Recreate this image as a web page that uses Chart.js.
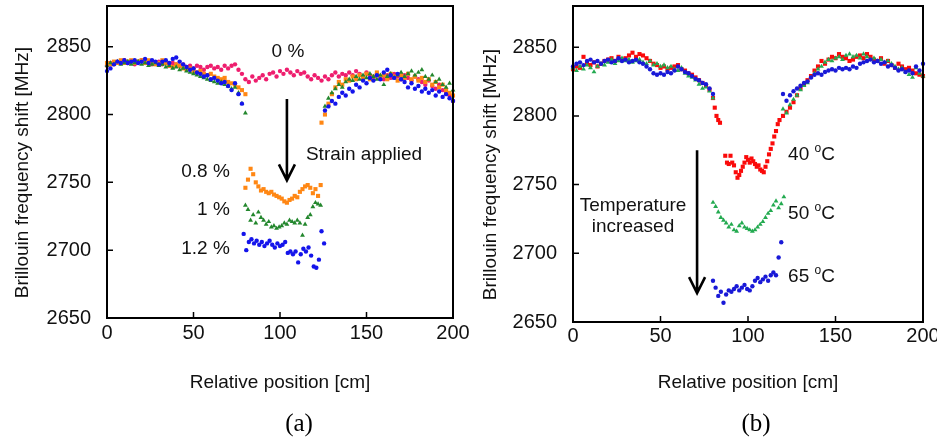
<!DOCTYPE html>
<html>
<head>
<meta charset="utf-8">
<script src="https://cdn.jsdelivr.net/npm/chart.js@4.4.1/dist/chart.umd.min.js"></script>
<style>
  html, body { margin: 0; padding: 0; background: #fff; }
  #wrap { position: relative; width: 937px; height: 442px; }
  #wrap canvas { position: absolute; top: 0; }
  #chartA { left: 0; }
  #chartB { left: 468px; }
</style>
</head>
<body>
<div id="wrap">
  <canvas id="chartA" width="480" height="442"></canvas>
  <canvas id="chartB" width="469" height="442"></canvas>
</div>
<script>
// positions along the fibre [cm]
const steps = (a, b, d) => { const out = []; for (let v = a; v <= b + 1e-9; v += d) out.push(Math.round(v * 10) / 10); return out; };

const yTicks = [2650, 2700, 2750, 2800, 2850];
const xTicks = [0, 50, 100, 150, 200];

// ---- (a) strain ----
const strain00 = [2836,2838,2837,2839,2838,2840,2838,2839,2837,2839,2840,2838,2839,2837,2838,2839,2837,2838,2836,2838,
  2837,2836,2837,2835,2836,2834,2836,2835,2833,2835,2836,2834,2835,2833,2836,2834,2836,2837,2833,2830,
  2826,2824,2828,2825,2827,2829,2826,2830,2831,2828,2832,2830,2833,2831,2829,2832,2830,2831,2828,2826,
  2829,2827,2825,2828,2826,2829,2831,2828,2830,2829,2831,2829,2832,2830,2828,2831,2829,2827,2830,2828,
  2826,2829,2827,2830,2828,2826,2829,2827,2825,2828,2826,2824,2822,2825,2821,2819,2822,2818,2816,2814,2810];

const strain08Left = [2838,2837,2839,2838,2840,2838,2839,2840,2838,2839,2840,2838,2840,2839,2837,2838,2840,2838,2836,2835,
  2837,2836,2834,2833,2834,2832,2831,2832,2830,2829,2830,2828,2827,2826,2827,2824,2823,2822,2820,2818,2815];
const strain08Low = [2746,2752,2760,2756,2750,2747,2744,2745,2743,2742,2743,2741,2740,2739,2738,2736,2735,2737,2738,2740,
  2739,2743,2745,2747,2748,2746,2742,2745,2740,2748];
const strain08Right = [2794,2800,2808,2815,2820,2824,2822,2826,2825,2828,2826,2829,2827,2830,2826,2828,2831,2827,2829,2826,
  2830,2828,2825,2829,2827,2830,2826,2828,2825,2827,2824,2826,2822,2824,2820,2822,2818,2816,2814];

const strain10Left = [2836,2838,2837,2839,2837,2838,2839,2837,2838,2839,2837,2838,2836,2837,2838,2836,2837,2835,2836,2834,
  2835,2833,2834,2832,2831,2830,2829,2828,2827,2826,2825,2824,2823,2824,2822,2821,2819,2820,2816,2808,2801];
const strain10Low = [2733,2730,2722,2726,2720,2728,2724,2722,2719,2721,2717,2718,2716,2717,2718,2720,2719,2722,2721,2720,
  2722,2720,2711,2719,2724,2726,2732,2735,2734,2733];
const strain10Right = [2806,2812,2816,2819,2822,2820,2824,2826,2825,2828,2826,2829,2827,2830,2828,2826,2829,2822,2828,2830,
  2827,2829,2831,2828,2830,2832,2829,2831,2833,2828,2826,2829,2824,2826,2822,2820,2823,2818];

const strain12Left = [2832,2834,2837,2839,2838,2840,2838,2839,2840,2838,2839,2841,2838,2840,2839,2837,2839,2840,2838,2841,
  2842,2839,2837,2835,2833,2834,2831,2830,2828,2829,2826,2827,2825,2823,2824,2821,2818,2823,2815,2808];
const strain12Low = [2712,2700,2706,2708,2705,2707,2704,2706,2703,2705,2707,2704,2702,2705,2703,2704,2706,2698,2699,2697,
  2699,2691,2697,2701,2699,2702,2696,2688,2687,2693,2714,2705];
const strain12Right = [2803,2806,2810,2808,2813,2816,2814,2819,2817,2822,2820,2825,2823,2827,2825,2829,2826,2831,2833,2829,
  2827,2830,2826,2824,2820,2823,2819,2821,2817,2819,2816,2818,2814,2817,2813,2815,2812,2810];

// ---- (b) temperature ----
const temp40Left = [2834,2836,2835,2843,2838,2837,2839,2836,2838,2840,2841,2842,2840,2843,2841,2842,2844,2846,2843,2845,
  2844,2842,2840,2838,2837,2835,2836,2834,2835,2836,2837,2834,2833,2831,2830,2828,2826,2824,2822,2819];
const temp40Edge = [2813,2806,2800,2797,2795];
const temp40Low = [2771,2766,2765,2771,2766,2764,2759,2755,2757,2760,2763,2766,2770,2768,2766,2769,2767,2765,2763,2764,
  2761,2760,2759,2763,2767,2772,2776,2780,2785,2789,2794,2797];
const temp40Right = [2800,2803,2806,2810,2815,2820,2823,2826,2829,2833,2836,2840,2838,2841,2843,2842,2845,2843,2842,2840,
  2841,2843,2844,2842,2845,2843,2841,2840,2842,2838,2840,2837,2835,2838,2836,2834,2835,2833,2831,2830,2829];

const temp50Left = [2835,2833,2836,2834,2837,2835,2832,2836,2838,2837,2839,2841,2838,2840,2842,2840,2841,2839,2840,2841,
  2839,2838,2840,2837,2838,2836,2837,2835,2836,2834,2833,2835,2831,2829,2828,2826,2823,2820,2821,2818,2813];
const temp50Low = [2737,2734,2730,2726,2724,2722,2719,2721,2717,2716,2720,2722,2719,2718,2717,2716,2717,2719,2721,2723,
  2726,2729,2731,2735,2738,2733,2736,2741];
const temp50Right = [2805,2802,2808,2812,2815,2819,2822,2824,2828,2831,2834,2836,2839,2841,2840,2842,2843,2841,2844,2845,
  2843,2844,2842,2845,2843,2841,2842,2840,2841,2839,2840,2838,2836,2834,2835,2832,2830,2828,2835,2831,2829];

const temp65Left = [2836,2838,2839,2837,2840,2841,2839,2840,2838,2840,2841,2839,2840,2842,2840,2841,2839,2840,2841,2839,
  2838,2836,2834,2831,2830,2831,2830,2832,2831,2833,2836,2834,2832,2831,2829,2827,2826,2824,2823,2820,2816];
const temp65Low = [2680,2675,2669,2672,2664,2670,2673,2672,2674,2676,2673,2675,2677,2674,2673,2676,2680,2682,2679,2681,
  2683,2680,2684,2686,2684,2697,2708];
const temp65Right = [2816,2811,2815,2818,2820,2822,2824,2825,2828,2830,2831,2830,2832,2833,2834,2833,2835,2834,2835,2834,
  2836,2835,2838,2839,2840,2841,2839,2840,2838,2839,2836,2837,2835,2833,2834,2832,2833,2831,2836,2833,2838];

const FONT = "'Liberation Sans', Arial, sans-serif";
Chart.defaults.font.family = FONT;
Chart.defaults.color = '#111';

function pts(xs, ys) {
  return xs.map((x, i) => ({ x: x, y: ys[i] }));
}

function series(label, data, color, style, radius, order) {
  return {
    label: label,
    data: data,
    showLine: false,
    pointStyle: style,
    pointRadius: radius,
    pointHoverRadius: radius,
    pointBackgroundColor: color,
    pointBorderColor: color,
    pointBorderWidth: 0,
    order: order,
    clip: false
  };
}

function drawSupLabel(ctx, x, y, num) {
  ctx.textAlign = 'left';
  ctx.font = '19px ' + FONT;
  ctx.fillText(num + ' ', x, y);
  let w = ctx.measureText(num + ' ').width;
  ctx.font = '12px ' + FONT;
  ctx.fillText('o', x + w, y - 6);
  w += ctx.measureText('o').width;
  ctx.font = '19px ' + FONT;
  ctx.fillText('C', x + w, y);
}

const panelDecor = {
  id: 'panelDecor',
  afterDraw(chart, args, opts) {
    const { ctx, chartArea: a, scales: { x, y } } = chart;
    ctx.save();
    ctx.strokeStyle = '#000';
    ctx.fillStyle = '#111';

    // inward tick marks
    ctx.lineWidth = 1.5;
    ctx.beginPath();
    xTicks.forEach(v => { const px = x.getPixelForValue(v); ctx.moveTo(px, a.bottom); ctx.lineTo(px, a.bottom - 6); });
    yTicks.forEach(v => { const py = y.getPixelForValue(v); ctx.moveTo(a.left, py); ctx.lineTo(a.left + 6, py); });
    ctx.stroke();

    // plot frame
    ctx.lineWidth = 2;
    ctx.strokeRect(a.left, a.top, a.right - a.left, a.bottom - a.top);

    // arrow
    const ar = opts.arrow;
    const ax = x.getPixelForValue(ar.x), ay0 = y.getPixelForValue(ar.from), ay1 = y.getPixelForValue(ar.to);
    ctx.lineWidth = 2.6;
    ctx.beginPath();
    ctx.moveTo(ax, ay0); ctx.lineTo(ax, ay1);
    ctx.moveTo(ax - 8, ay1 - 16); ctx.lineTo(ax, ay1); ctx.lineTo(ax + 8, ay1 - 16);
    ctx.stroke();

    // text notes
    ctx.textBaseline = 'middle';
    opts.notes.forEach(n => {
      const px = x.getPixelForValue(n.x), py = y.getPixelForValue(n.y);
      if (n.deg) { drawSupLabel(ctx, px, py, n.deg); return; }
      ctx.font = '19px ' + FONT;
      ctx.textAlign = n.align;
      ctx.fillText(n.text, px, py);
    });

    // panel tag
    ctx.font = "25px 'Liberation Serif', 'Times New Roman', serif";
    ctx.textAlign = 'center';
    ctx.fillStyle = '#000';
    ctx.fillText(opts.tag, x.getPixelForValue(opts.tagX), 424);
    ctx.restore();
  }
};

function makeChart(id, datasets, decor, pad, xHeight, xTitlePad, xLabelPad) {
  return new Chart(document.getElementById(id), {
    type: 'scatter',
    data: { datasets: datasets },
    plugins: [panelDecor],
    options: {
      responsive: false,
      animation: false,
      events: [],
      layout: { padding: pad },
      plugins: { legend: { display: false }, tooltip: { enabled: false }, panelDecor: decor },
      scales: {
        x: {
          type: 'linear', min: 0, max: 200, bounds: 'data',
          grid: { display: false, drawTicks: false },
          border: { display: false },
          afterBuildTicks: s => { s.ticks = xTicks.map(v => ({ value: v })); },
          ticks: { padding: xLabelPad, font: { size: 20 }, color: '#111', callback: v => String(v) },
          title: { display: true, text: 'Relative position [cm]', font: { size: 19 }, color: '#111', padding: { top: 0, bottom: xTitlePad } },
          afterFit: s => { s.height = xHeight; s.paddingLeft = 0; s.paddingRight = 0; }
        },
        y: {
          type: 'linear', min: 2650, max: 2880, bounds: 'data',
          grid: { display: false, drawTicks: false },
          border: { display: false },
          afterBuildTicks: s => { s.ticks = yTicks.map(v => ({ value: v })); },
          ticks: { padding: 16, font: { size: 20 }, color: '#111', callback: v => String(v) },
          title: { display: true, text: 'Brillouin frequency shift [MHz]    ', font: { size: 19 }, color: '#111', padding: { top: 11, bottom: 0 } },
          afterFit: s => { s.width = pad.yWidth; s.paddingTop = 0; s.paddingBottom = 0; }
        }
      }
    }
  });
}

// ---- panel (a) ----
const lowStrainX = steps(80, 123.5, 1.5);
const datasetsA = [
  series('0 %', pts(steps(0, 200, 2), strain00), 'rgb(238, 30, 110)', 'circle', 2.2, 3),
  series('0.8 %', [].concat(pts(steps(0, 80, 2), strain08Left), pts(lowStrainX, strain08Low), pts(steps(124, 200, 2), strain08Right)),
    'rgb(255, 135, 20)', 'rect', 2.9, 2),
  series('1 %', [].concat(pts(steps(0, 80, 2), strain10Left), pts(lowStrainX, strain10Low), pts(steps(126, 200, 2), strain10Right)),
    'rgb(35, 135, 45)', 'triangle', 2.8, 1),
  series('1.2 %', [].concat(pts(steps(0, 78, 2), strain12Left), pts(steps(79, 125.5, 1.5), strain12Low), pts(steps(126, 200, 2), strain12Right)),
    'rgb(20, 20, 235)', 'circle', 2.2, 0)
];
const decorA = {
  tag: '(a)', tagX: 111,
  arrow: { x: 104, from: 2811.5, to: 2751.5 },
  notes: [
    { text: '0 %', x: 104.6, y: 2846, align: 'center' },
    { text: 'Strain applied', x: 115, y: 2770, align: 'left' },
    { text: '0.8 %', x: 71, y: 2757.5, align: 'right' },
    { text: '1 %', x: 71, y: 2730, align: 'right' },
    { text: '1.2 %', x: 71, y: 2701, align: 'right' }
  ]
};
makeChart('chartA', datasetsA, decorA, { left: 0, top: 6, right: 27, bottom: 0, yWidth: 107 }, 124, 48, 3);

// ---- panel (b) ----
const datasetsB = [
  series('40 oC', [].concat(pts(steps(0, 78, 2), temp40Left), pts(steps(80, 84, 1), temp40Edge), pts(steps(87, 118, 1), temp40Low), pts(steps(120, 200, 2), temp40Right)),
    'rgb(250, 10, 10)', 'rect', 2.9, 2),
  series('50 oC', [].concat(pts(steps(0, 80, 2), temp50Left), pts(steps(80, 120.5, 1.5), temp50Low), pts(steps(120, 200, 2), temp50Right)),
    'rgb(35, 170, 80)', 'triangle', 2.8, 1),
  series('65 oC', [].concat(pts(steps(0, 80, 2), temp65Left), pts(steps(80, 119, 1.5), temp65Low), pts(steps(120, 200, 2), temp65Right)),
    'rgb(25, 25, 215)', 'circle', 2.2, 0)
];
const decorB = {
  tag: '(b)', tagX: 104.6,
  arrow: { x: 70.9, from: 2775, to: 2671 },
  notes: [
    { deg: '40', x: 122.9, y: 2772 },
    { deg: '50', x: 122.9, y: 2728.5 },
    { deg: '65', x: 122.9, y: 2683 },
    { text: 'Temperature', x: 34.3, y: 2734.6, align: 'center' },
    { text: 'increased', x: 34.3, y: 2719.2, align: 'center' }
  ]
};
makeChart('chartB', datasetsB, decorB, { left: 0, top: 6, right: 14, bottom: 0, yWidth: 105 }, 120, 48, 2);
</script>
</body>
</html>
